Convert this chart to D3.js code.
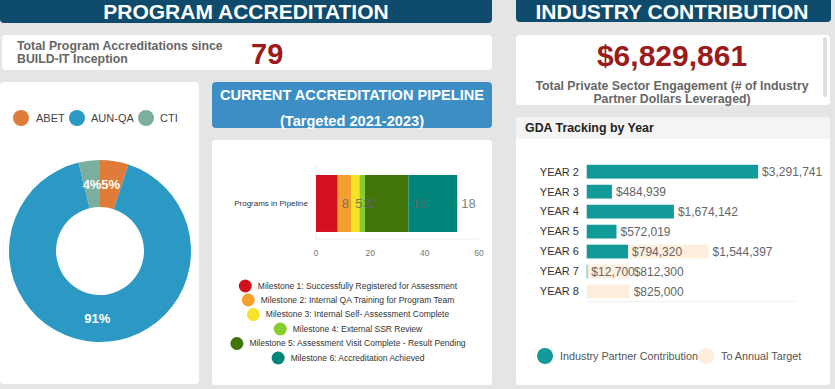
<!DOCTYPE html>
<html lang="en">
<head>
<meta charset="UTF-8" />
<title>BUILD-IT Dashboard</title>
<script src="https://d3js.org/d3.v7.min.js"></script>
<style>
  html, body { margin: 0; padding: 0; background: #e5e5e5; font-family: "Liberation Sans", Arial, sans-serif; }
  svg { display: block; }
  .hdr { fill: #fff; font-weight: bold; }
  .kpi-lbl { fill: #666; font-weight: bold; font-size: 12.3px; }
  .big { fill: #9b1b1b; font-weight: bold; }
  .tick-lbl { fill: #777; font-size: 8.5px; }
  .val { fill: #666; font-size: 12px; }
</style>
</head>
<body>
<svg id="dash" width="835" height="389"></svg>
<script>
  // accreditation split by body
  const donutLabels = ['ABET', 'AUN-QA', 'CTI'];
  const donutValues = [4, 72, 3];
  const donutColors = ['#e07b39', '#2b99c3', '#7aae9e'];

  // pipeline milestones
  const milestones = [
    'Milestone 1: Successfully Registered for Assessment',
    'Milestone 2: Internal QA Training for Program Team',
    'Milestone 3: Internal Self- Assessment Complete',
    'Milestone 4: External SSR Review',
    'Milestone 5: Assessment Visit Complete - Result Pending',
    'Milestone 6: Accreditation Achieved'
  ];
  const milestoneValues = [8, 5, 3, 2, 16, 18];
  const milestoneColors = ['#d3101f', '#f4a02e', '#f6e326', '#84cd2c', '#417409', '#00857a'];
  const pipelineTicks = [0, 20, 40, 60];

  // GDA tracking
  const years = ['YEAR 2', 'YEAR 3', 'YEAR 4', 'YEAR 5', 'YEAR 6', 'YEAR 7', 'YEAR 8'];
  const contribution = [3291741, 484939, 1674142, 572019, 794320, 12700, 0];
  const toTarget = [0, 0, 0, 0, 1544397, 812300, 825000];

  const totalAccreditations = 79;
  const totalEngagement = 6829861;

  const svg = d3.select('#dash');

  // ---------- panels ----------
  function card(x, y, w, h, fill) {
    svg.append('rect').attr('x', x).attr('y', y).attr('width', w).attr('height', h)
      .attr('rx', 4).attr('fill', fill || '#fff');
  }

  card(0, -4, 492, 27, '#0e4b6c');
  card(516, -4, 315, 26, '#0e4b6c');
  svg.append('text').attr('class', 'hdr').attr('x', 246).attr('y', 19)
    .attr('text-anchor', 'middle').style('font-size', '21px').text('PROGRAM ACCREDITATION');
  svg.append('text').attr('class', 'hdr').attr('x', 672).attr('y', 19)
    .attr('text-anchor', 'middle').style('font-size', '21px').text('INDUSTRY CONTRIBUTION');

  // total accreditations
  card(2, 35, 490, 35);
  svg.append('text').attr('class', 'kpi-lbl').attr('x', 17).attr('y', 50).text('Total Program Accreditations since');
  svg.append('text').attr('class', 'kpi-lbl').attr('x', 17).attr('y', 63).text('BUILD-IT Inception');
  svg.append('text').attr('class', 'big').attr('x', 251).attr('y', 64)
    .style('font-size', '29px').text(totalAccreditations);

  // industry engagement
  card(516, 35, 314, 70);
  svg.append('rect').attr('x', 823).attr('y', 37).attr('width', 4).attr('height', 60)
    .attr('rx', 2).attr('fill', '#ddd');
  svg.append('text').attr('class', 'big').attr('x', 672).attr('y', 66)
    .attr('text-anchor', 'middle').style('font-size', '30px')
    .text('$' + d3.format(',')(totalEngagement));
  svg.append('text').attr('class', 'kpi-lbl').attr('x', 672).attr('y', 90)
    .attr('text-anchor', 'middle').text('Total Private Sector Engagement (# of Industry');
  svg.append('text').attr('class', 'kpi-lbl').attr('x', 672).attr('y', 103)
    .attr('text-anchor', 'middle').text('Partner Dollars Leveraged)');

  // ---------- donut ----------
  card(0, 82, 199, 302);
  const donutLeg = [{ cx: 21, tx: 36 }, { cx: 77, tx: 91 }, { cx: 146, tx: 160 }];
  donutLabels.forEach((lab, i) => {
    svg.append('circle').attr('cx', donutLeg[i].cx).attr('cy', 118).attr('r', 8).attr('fill', donutColors[i]);
    svg.append('text').attr('x', donutLeg[i].tx).attr('y', 122).attr('fill', '#444')
      .style('font-size', '11px').text(lab);
  });

  const total = d3.sum(donutValues);
  const pie = d3.pie().sort(null).value(d => d)(donutValues);
  const outerR = 91, innerR = 44;
  const arc = d3.arc().innerRadius(innerR).outerRadius(outerR);
  const labelArc = d3.arc().innerRadius(67).outerRadius(67);
  const dg = svg.append('g').attr('transform', 'translate(100,251)');
  dg.selectAll('path').data(pie).enter().append('path')
    .attr('d', arc).attr('fill', (d, i) => donutColors[i]);
  dg.selectAll('text').data(pie).enter().append('text')
    .attr('transform', d => {
      const c = labelArc.centroid(d);
      return `translate(${c[0]},${c[1]})`;
    })
    .attr('text-anchor', 'middle').attr('dy', '0.35em')
    .attr('fill', '#fff').style('font-size', '13px').style('font-weight', 'bold')
    .text(d => Math.round(d.data / total * 100) + '%');

  // ---------- pipeline ----------
  card(212, 82, 280, 46, '#3d8ec5');
  svg.append('text').attr('class', 'hdr').attr('x', 352).attr('y', 100)
    .attr('text-anchor', 'middle').style('font-size', '14.6px').text('CURRENT ACCREDITATION PIPELINE');
  svg.append('text').attr('class', 'hdr').attr('x', 352).attr('y', 126)
    .attr('text-anchor', 'middle').style('font-size', '14.6px').text('(Targeted 2021-2023)');

  card(212, 140, 280, 245);
  const px = d3.scaleLinear().domain([0, 60]).range([316, 479]);
  const py = d3.scaleBand().domain(['Programs in Pipeline']).range([163, 239])
    .paddingInner(0.25).paddingOuter(0.125).align(0.63);

  svg.append('line').attr('x1', px(0)).attr('x2', px(60)).attr('y1', 239).attr('y2', 239)
    .attr('stroke', '#eee');
  svg.append('line').attr('x1', px(0)).attr('x2', px(0)).attr('y1', 163).attr('y2', 239)
    .attr('stroke', '#eee');

  let cum = 0;
  const segs = milestoneValues.map((v, i) => {
    const s = { x0: cum, x1: cum + v, v: v, c: milestoneColors[i] };
    cum += v;
    return s;
  });
  const pg = svg.append('g');
  pg.selectAll('rect').data(segs).enter().append('rect')
    .attr('x', d => px(d.x0)).attr('width', d => px(d.x1) - px(d.x0))
    .attr('y', py('Programs in Pipeline')).attr('height', py.bandwidth())
    .attr('fill', d => d.c);
  pg.selectAll('text.val').data(segs).enter().append('text')
    .attr('class', 'val')
    .attr('x', d => px(d.x1) + 4)
    .attr('y', py('Programs in Pipeline') + py.bandwidth() / 2)
    .attr('dy', '0.35em').style('font-size', '13px')
    .attr('fill-opacity', 0.85)
    .text(d => d.v);

  svg.append('text').attr('x', 308).attr('y', 206).attr('text-anchor', 'end')
    .attr('fill', '#333').style('font-size', '8px').text('Programs in Pipeline');

  svg.selectAll('text.ptick').data(pipelineTicks).enter().append('text')
    .attr('class', 'tick-lbl').attr('x', d => px(d)).attr('y', 256)
    .attr('text-anchor', 'middle').text(d => d);

  // pipeline legend
  const legY = [286, 300, 314.5, 329, 343.5, 358];
  milestones.forEach((m, i) => {
    const g = svg.append('g');
    const t = g.append('text').attr('x', 0).attr('y', legY[i]).attr('dy', '0.35em')
      .attr('fill', '#333').style('font-size', '8.5px').text(m);
    const tw = t.node().getComputedTextLength();
    const full = 13 + 6 + tw;
    const left = 348 - full / 2;
    g.append('circle').attr('cx', left + 6.5).attr('cy', legY[i]).attr('r', 6.5).attr('fill', milestoneColors[i]);
    t.attr('x', left + 19);
  });

  // ---------- GDA ----------
  card(516, 117, 314, 268);
  svg.append('path').attr('d', 'M516,139 V121 a4,4 0 0 1 4,-4 H826 a4,4 0 0 1 4,4 V139 Z').attr('fill', '#f4f4f4');
  svg.append('text').attr('x', 525).attr('y', 132).attr('fill', '#222')
    .style('font-size', '12.4px').style('font-weight', 'bold').text('GDA Tracking by Year');

  const gx = d3.scaleLinear().domain([0, 4000000]).range([586.7, 795]);
  const gy = d3.scaleBand().domain(years).range([161.7, 301.5]).paddingInner(0.31).paddingOuter(0.155);
  const money = d3.format('$,');

  svg.append('line').attr('x1', gx(0)).attr('x2', gx(4000000)).attr('y1', 301.5).attr('y2', 301.5)
    .attr('stroke', '#f0f0f0');

  const rows = years.map((y, i) => ({ y: y, a: contribution[i], b: toTarget[i] }));
  const gg = svg.append('g');
  rows.forEach(r => {
    const yy = gy(r.y), h = gy.bandwidth();
    if (r.b > 0) {
      gg.append('rect').attr('x', gx(r.a)).attr('width', gx(r.a + r.b) - gx(r.a))
        .attr('y', yy).attr('height', h).attr('fill', '#fdeedd');
    }
    if (r.a > 0) {
      gg.append('rect').attr('x', gx(0)).attr('width', gx(r.a) - gx(0))
        .attr('y', yy).attr('height', h).attr('fill', '#12999a');
    }
    gg.append('text').attr('x', 579).attr('y', yy + h / 2).attr('dy', '0.35em')
      .attr('text-anchor', 'end').attr('fill', '#333').style('font-size', '11px').text(r.y);
    if (r.a > 0) {
      gg.append('text').attr('class', 'val').attr('x', gx(r.a) + 4).attr('y', yy + h / 2)
        .attr('dy', '0.35em').text(money(r.a));
    }
    if (r.b > 0) {
      gg.append('text').attr('class', 'val').attr('x', gx(r.a + r.b) + 4).attr('y', yy + h / 2)
        .attr('dy', '0.35em').text(money(r.b));
    }
  });

  // GDA legend
  const gLeg = [{ lab: 'Industry Partner Contribution', c: '#12999a', cx: 545, tx: 560 },
                { lab: 'To Annual Target', c: '#fdeedd', cx: 706, tx: 721 }];
  gLeg.forEach(l => {
    svg.append('circle').attr('cx', l.cx).attr('cy', 356).attr('r', 8).attr('fill', l.c);
    svg.append('text').attr('x', l.tx).attr('y', 356).attr('dy', '0.35em')
      .attr('fill', '#555').style('font-size', '10.8px').text(l.lab);
  });
</script>
</body>
</html>
